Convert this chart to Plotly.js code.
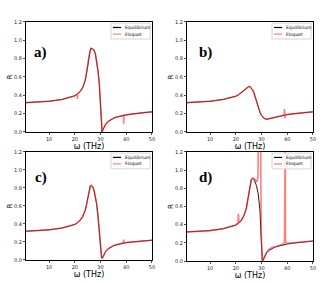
<!DOCTYPE html>
<html><head><meta charset="utf-8">
<script src="https://cdn.plot.ly/plotly-3.0.1.min.js"></script>
<style>html,body{margin:0;padding:0;background:#fff}#chart{width:322px;height:283px}</style>
</head><body><div id="chart"></div>
<script>
// Panel a
const aEqX = [1,5,10,15,18,20,21,22,23,24,24.5,25,25.5,26,26.3,27,27.5,28,28.5,29,29.5,29.8,30.0,30.2,30.4,30.6,31,31.5,32,33,34,35,36,38,40,42,45,48,50];
const aEqY = [0.32,0.325,0.335,0.355,0.375,0.395,0.415,0.44,0.48,0.56,0.63,0.73,0.83,0.895,0.915,0.905,0.89,0.85,0.78,0.67,0.53,0.38,0.24,0.09,0.01,0.0,0.03,0.06,0.085,0.115,0.135,0.15,0.16,0.175,0.187,0.196,0.206,0.215,0.22];
const aFlX = [1,5,10,15,18,20,20.9,21.0,21.1,22,23,24,24.5,25,25.5,26,26.3,27,27.5,28,28.5,29,29.5,29.8,30.0,30.2,30.4,30.6,31,31.5,32,33,34,35,36,38,38.9,39.0,39.1,40,42,45,48,50];
const aFlY = [0.32,0.325,0.335,0.355,0.375,0.395,0.41,0.36,0.415,0.44,0.48,0.56,0.63,0.73,0.83,0.895,0.915,0.905,0.89,0.85,0.78,0.67,0.53,0.38,0.24,0.09,0.01,0.0,0.03,0.06,0.085,0.115,0.135,0.15,0.16,0.175,0.182,0.09,0.184,0.187,0.196,0.206,0.215,0.22];
// Panel b
const bEqX = [1,5,10,15,18,20,21,22,23,24,24.5,25,25.5,26,26.5,27,27.5,28,28.5,29,29.5,30,30.5,31,31.5,32,33,34,35,36,38,40,42,45,48,50];
const bEqY = [0.32,0.325,0.335,0.355,0.375,0.39,0.405,0.425,0.445,0.47,0.485,0.495,0.495,0.48,0.46,0.43,0.38,0.33,0.285,0.24,0.205,0.18,0.163,0.15,0.143,0.14,0.145,0.152,0.16,0.167,0.18,0.19,0.198,0.207,0.215,0.22];
const bFlX = [1,5,10,15,18,20,21,22,23,24,24.5,25,25.5,26,26.5,27,27.5,28,28.5,29,29.5,30,30.5,31,31.5,32,33,34,35,36,38,38.7,38.9,39.1,39.3,40,42,45,48,50];
const bFlY = [0.32,0.325,0.335,0.355,0.375,0.39,0.405,0.425,0.445,0.47,0.485,0.495,0.495,0.48,0.46,0.43,0.38,0.33,0.285,0.24,0.205,0.18,0.163,0.15,0.143,0.14,0.145,0.152,0.16,0.167,0.18,0.185,0.25,0.15,0.19,0.19,0.198,0.207,0.215,0.22];
// Panel c
const cEqX = [1,5,10,15,18,20,21,22,23,24,24.5,25,25.5,26,26.3,27,27.5,28,28.5,29,29.5,29.8,30.1,30.4,30.7,31,31.5,32,33,34,35,36,38,40,42,45,48,50];
const cEqY = [0.32,0.325,0.335,0.355,0.375,0.395,0.415,0.44,0.48,0.55,0.61,0.69,0.77,0.82,0.83,0.81,0.77,0.71,0.62,0.49,0.33,0.2,0.08,0.025,0.02,0.04,0.07,0.095,0.125,0.145,0.158,0.168,0.182,0.193,0.2,0.208,0.216,0.22];
const cFlX = [1,5,10,15,18,20,21,22,23,24,24.5,25,25.5,26,26.3,27,27.5,28,28.5,29,29.5,29.8,30.1,30.4,30.7,31,31.5,32,33,34,35,36,38,38.8,39.0,39.2,40,42,45,48,50];
const cFlY = [0.32,0.325,0.335,0.355,0.375,0.395,0.415,0.44,0.48,0.55,0.61,0.69,0.77,0.82,0.83,0.81,0.77,0.71,0.62,0.49,0.33,0.2,0.08,0.025,0.02,0.04,0.07,0.095,0.125,0.145,0.158,0.168,0.182,0.19,0.225,0.19,0.193,0.2,0.208,0.216,0.22];
// Panel d
const dEqX = [1,5,10,15,18,20,21,22,23,24,24.5,25,25.5,26,26.4,27,27.5,28,28.7,29.1,29.4,29.8,30.1,30.3,30.6,31,31.5,32,33,34,35,36,38,40,42,45,48,50];
const dEqY = [0.32,0.325,0.335,0.355,0.375,0.395,0.415,0.44,0.49,0.57,0.65,0.75,0.84,0.895,0.91,0.9,0.87,0.83,0.74,0.66,0.55,0.28,0.06,0.0,0.01,0.035,0.065,0.09,0.12,0.138,0.15,0.16,0.175,0.187,0.196,0.206,0.215,0.22];
const dFlX = [1,5,10,15,18,20,20.8,21.0,21.2,22,23,24,24.5,25,25.5,26,26.4,27,27.5,28,28.3,28.6,28.75,29.6,29.9,30.1,30.3,30.6,31,31.5,32,33,34,34.5,35,35.5,36,37,38,38.6,38.9,39.0,39.2,39.3,39.6,40,42,45,48,50];
const dFlY = [0.32,0.325,0.335,0.355,0.375,0.395,0.42,0.52,0.43,0.445,0.49,0.57,0.65,0.75,0.84,0.895,0.91,0.91,0.895,0.875,0.88,0.93,1.4,1.4,0.3,0.06,0.0,0.015,0.045,0.075,0.1,0.13,0.145,0.155,0.152,0.158,0.165,0.175,0.183,0.19,0.22,1.4,1.4,0.22,0.2,0.195,0.2,0.208,0.216,0.22];

const xTicks = [10,20,30,40,50];
const yTicks = [0,0.2,0.4,0.6,0.8,1.0,1.2];
const panelLabels = ['a)','b)','c)','d)'];
const seriesNames = ['Equilibrium','Floquet'];

const panels = [[aEqX,aEqY,aFlX,aFlY],[bEqX,bEqY,bFlX,bFlY],[cEqX,cEqY,cFlX,cFlY],[dEqX,dEqY,dFlX,dFlY]];
const xDom = [[0.0807,0.472],[0.5807,0.972],[0.0807,0.472],[0.5807,0.972]];
const yDom = [[0.5336,0.9223],[0.5336,0.9223],[0.0813,0.4629],[0.0777,0.4629]];
const labelPos = [[0.05,0.72],[0.08,0.725],[0.055,0.76],[0.08,0.77]];
const floqColor = 'rgba(255,40,40,0.6)';

const traces = [];
const layout = {width:322,height:283,margin:{l:0,r:0,t:0,b:0},paper_bgcolor:'#fff',plot_bgcolor:'#fff',
  showlegend:false,shapes:[],annotations:[],font:{family:'DejaVu Sans',color:'#000'}};

panels.forEach((p,i)=>{
  const n = i===0?'':String(i+1);
  const xa='x'+n, ya='y'+n;
  traces.push({x:p[0],y:p[1],xaxis:xa,yaxis:ya,type:'scatter',mode:'lines',name:seriesNames[0],line:{color:'#000',width:0.9}});
  traces.push({x:p[2],y:p[3],xaxis:xa,yaxis:ya,type:'scatter',mode:'lines',name:seriesNames[1],line:{color:floqColor,width:1.6}});
  const axCommon = {showline:true,linecolor:'#000',linewidth:1,mirror:true,ticks:'outside',ticklen:2,tickwidth:0.7,tickcolor:'#000',
    showgrid:false,zeroline:false,tickfont:{size:5,color:'#222'}};
  layout['xaxis'+n] = Object.assign({},axCommon,{domain:xDom[i],anchor:ya,range:[1,50],tickvals:xTicks,
    title:{text:'ω (THz)',font:{size:8},standoff:0}});
  layout['yaxis'+n] = Object.assign({},axCommon,{domain:yDom[i],anchor:xa,range:[0,1.2],tickvals:yTicks,tickformat:'.1f',
    title:{text:'R',font:{size:7},standoff:0}});
  const xr=xa+' domain', yr=ya+' domain';
  layout.annotations.push({xref:xr,yref:yr,x:labelPos[i][0],y:labelPos[i][1],xanchor:'left',yanchor:'middle',showarrow:false,
    text:'<b>'+panelLabels[i]+'</b>',font:{family:'Liberation Serif',size:15,color:'#000'}});
  layout.shapes.push({type:'rect',xref:xr,yref:yr,x0:0.675,x1:0.985,y0:0.845,y1:0.99,line:{color:'#ccc',width:0.8},fillcolor:'rgba(255,255,255,0.85)'});
  layout.shapes.push({type:'line',xref:xr,yref:yr,x0:0.69,x1:0.755,y0:0.95,y1:0.95,line:{color:'#000',width:1.2}});
  layout.shapes.push({type:'line',xref:xr,yref:yr,x0:0.69,x1:0.755,y0:0.89,y1:0.89,line:{color:floqColor,width:1.2}});
  layout.annotations.push({xref:xr,yref:yr,x:0.77,y:0.95,xanchor:'left',yanchor:'middle',showarrow:false,text:seriesNames[0],font:{size:4.5,color:'#000'}});
  layout.annotations.push({xref:xr,yref:yr,x:0.77,y:0.89,xanchor:'left',yanchor:'middle',showarrow:false,text:seriesNames[1],font:{size:4.5,color:'#000'}});
});

Plotly.newPlot('chart',traces,layout,{displayModeBar:false,staticPlot:true});
</script></body></html>
